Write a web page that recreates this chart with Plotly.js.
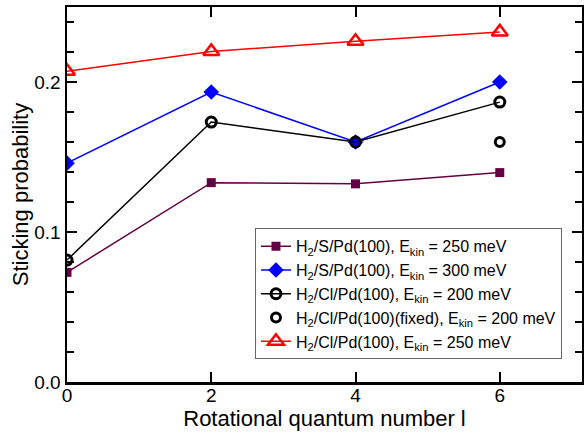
<!DOCTYPE html>
<html>
<head>
<meta charset="utf-8">
<script src="https://cdn.plot.ly/plotly-3.0.1.min.js"></script>
<style>html,body{margin:0;padding:0;background:#fff;}#chart{width:584px;height:432px;}</style>
</head>
<body>
<div id="chart"></div>
<script>
const rotQuantum = [0, 2, 4, 6];
const sPd250 = [0.0731, 0.1329, 0.1321, 0.1396];
const sPd300 = [0.1459, 0.1933, 0.160, 0.200];
const clPd200 = [0.0813, 0.1733, 0.160, 0.1866];
const clPdFixedX = [6];
const clPdFixed200 = [0.160];
const clPd250 = [0.2071, 0.2204, 0.2271, 0.2334];

const names = [
  'H<sub>2</sub>/S/Pd(100), E<sub>kin</sub> = 250 meV',
  'H<sub>2</sub>/S/Pd(100), E<sub>kin</sub> = 300 meV',
  'H<sub>2</sub>/Cl/Pd(100), E<sub>kin</sub> = 200 meV',
  'H<sub>2</sub>/Cl/Pd(100)(fixed), E<sub>kin</sub> = 200 meV',
  'H<sub>2</sub>/Cl/Pd(100), E<sub>kin</sub> = 250 meV'
];

const traces = [
  {x: rotQuantum, y: sPd250, name: names[0], mode: 'lines+markers',
   line: {color: '#660044', width: 1.5},
   marker: {symbol: 'square', size: 9, color: '#660044'}},
  {x: rotQuantum, y: sPd300, name: names[1], mode: 'lines+markers',
   line: {color: '#0000ff', width: 1.5},
   marker: {symbol: 'diamond', size: 12, color: '#0000ff'}},
  {x: rotQuantum, y: clPd200, name: names[2], mode: 'lines+markers',
   line: {color: '#000000', width: 1.5},
   marker: {symbol: 'circle-open', size: 10, color: '#000000', line: {width: 3, color: '#000000'}}},
  {x: clPdFixedX, y: clPdFixed200, name: names[3], mode: 'markers',
   marker: {symbol: 'circle-open', size: 9, color: '#000000', line: {width: 3, color: '#000000'}}},
  {x: rotQuantum, y: clPd250, name: names[4], mode: 'lines+markers',
   line: {color: '#ff0000', width: 1.5},
   marker: {symbol: 'triangle-up-open', size: 14, color: '#ff0000', line: {width: 2.5, color: '#ff0000'}}}
];

const layout = {
  width: 584, height: 432,
  margin: {l: 67, r: 2, t: 7, b: 50},
  paper_bgcolor: '#fff', plot_bgcolor: '#fff',
  font: {family: 'Liberation Sans, Arial, sans-serif', color: '#000'},
  showlegend: true,
  legend: {x: 0.365, y: 0.41, xanchor: 'left', yanchor: 'top',
    bgcolor: '#fff', bordercolor: '#666', borderwidth: 1,
    itemwidth: 30,
    font: {size: 16, family: 'Liberation Sans, Arial, sans-serif'}, tracegroupgap: 0},
  xaxis: {
    range: [0, 7.14], tickvals: [0, 2, 4, 6], ticktext: ['0', '2', '4', '6'],
    ticks: 'inside', ticklen: 10, tickwidth: 2, tickcolor: '#000',
    showline: true, linewidth: 2.5, linecolor: '#000', mirror: 'allticks',
    showgrid: false, zeroline: false,
    tickfont: {size: 19}, ticklabelstandoff: -5,
    title: {text: 'Rotational quantum number l', font: {size: 22}, standoff: 0}
  },
  yaxis: {
    range: [0, 0.25], dtick: 0.1, tick0: 0, tickformat: '.1f',
    ticks: 'inside', ticklen: 10, tickwidth: 2, tickcolor: '#000',
    minor: {dtick: 0.02, tick0: 0, ticks: 'inside', ticklen: 7, tickwidth: 2, tickcolor: '#000', showgrid: false},
    showline: true, linewidth: 2.5, linecolor: '#000', mirror: 'allticks',
    showgrid: false, zeroline: false,
    tickfont: {size: 19},
    title: {text: 'Sticking probability', font: {size: 22}, standoff: 0}
  }
};

Plotly.newPlot('chart', traces, layout, {displayModeBar: false, staticPlot: true});
</script>
</body>
</html>
